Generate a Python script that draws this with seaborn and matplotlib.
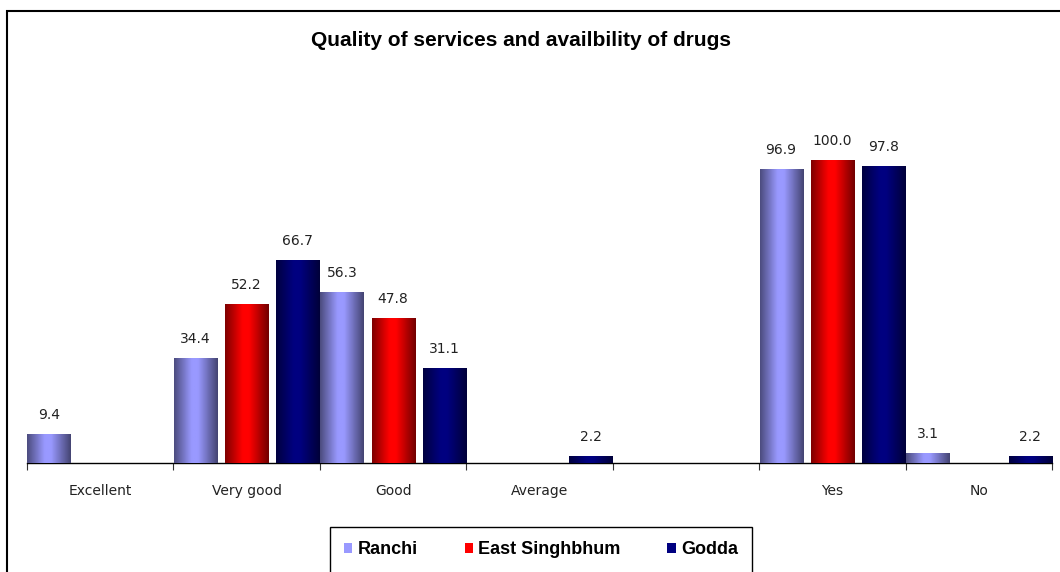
import numpy as np
import pandas as pd
import seaborn as sns
import matplotlib.pyplot as plt
from matplotlib.colors import LinearSegmentedColormap, to_rgb
from matplotlib.patches import Rectangle, Patch

# chart data
categories = ["Excellent", "Very good", "Good", "Average", " ", "Yes", "No"]
districts = ["Ranchi", "East Singhbhum", "Godda"]
ranchi = [9.4, 34.4, 56.3, 0.0, np.nan, 96.9, 3.1]
east_singhbhum = [0.0, 52.2, 47.8, 0.0, np.nan, 100.0, 0.0]
godda = [0.0, 66.7, 31.1, 2.2, np.nan, 97.8, 2.2]
colors = ["#9999FF", "#FF0000", "#000080"]

df = pd.DataFrame({
    "category": categories * 3,
    "district": np.repeat(districts, len(categories)),
    "value": ranchi + east_singhbhum + godda,
})

sns.set_theme(style="white")
plt.rcParams["font.family"] = ["Liberation Sans", "DejaVu Sans"]

fig = plt.figure(figsize=(10.6, 5.72), dpi=100)
ax = fig.add_axes([27 / 1060, 1 - 463 / 572, 1025 / 1060, 0.6356])

sns.barplot(data=df, x="category", y="value", hue="district", order=categories,
            hue_order=districts, palette=colors, width=1.05, gap=0.16,
            legend=False, ax=ax, linewidth=0, saturation=1)

# cylinder-like shading on each bar
grad = np.linspace(0, 1, 64).reshape(1, -1)
for cont, col in zip(ax.containers, colors):
    c = np.array(to_rgb(col))
    cmap = LinearSegmentedColormap.from_list(
        "g", [(0, c * 0.5), (0.4, c), (0.55, c), (1, c * 0.45)])
    for rect in cont:
        h = rect.get_height()
        if not h > 0:
            continue
        x0 = rect.get_x()
        ax.imshow(grad, extent=[x0, x0 + rect.get_width(), 0, h], aspect="auto",
                  cmap=cmap, zorder=3, interpolation="bilinear")
    labels = [f"{v:.1f}" if v > 0 else "" for v in cont.datavalues]
    ax.bar_label(cont, labels=labels, padding=9, fontsize=10, color="#222222",
                 family="DejaVu Sans")

n = len(categories)
ax.set_xlim(-0.5, n - 0.5)
ax.set_ylim(0, 120)
ax.set_xlabel("")
ax.set_ylabel("")
ax.set_yticks([])
ax.set_xticks(range(n), categories, family="DejaVu Sans")
ax.set_xticks(np.arange(n + 1) - 0.5, minor=True)
ax.tick_params(axis="x", which="major", length=0, pad=15, labelsize=10,
               labelcolor="#222222")
ax.tick_params(axis="x", which="minor", length=5, width=0.8, color="#333333",
               bottom=True, direction="out")
for s in ["top", "left", "right"]:
    ax.spines[s].set_visible(False)
ax.spines["bottom"].set_color("black")
ax.spines["bottom"].set_linewidth(1.0)
ax.set_facecolor("none")

fig.text(521 / 1060, 1 - 40 / 572, "Quality of services and availbility of drugs",
         ha="center", va="center", fontsize=15, fontweight="bold", color="black")

handles = [Patch(facecolor=c, edgecolor="none", label=d) for c, d in zip(colors, districts)]
fig.legend(handles=handles, loc="upper center", bbox_to_anchor=(541 / 1060, 1 - 527 / 572),
           ncol=3, frameon=True, fancybox=False, edgecolor="black", framealpha=1,
           prop={"weight": "bold", "size": 13}, handlelength=0.45, handleheight=0.45,
           handletextpad=0.3, columnspacing=2.6, borderpad=0.8, borderaxespad=0)
for t in fig.legends[0].get_texts():
    t.set_color("black")

fig.patches.append(Rectangle((7 / 1060, -0.2), 1.2, 1 - 11 / 572 + 0.2,
                             transform=fig.transFigure, fill=False,
                             edgecolor="black", linewidth=1.5))

fig.savefig("out.png", dpi=100)
